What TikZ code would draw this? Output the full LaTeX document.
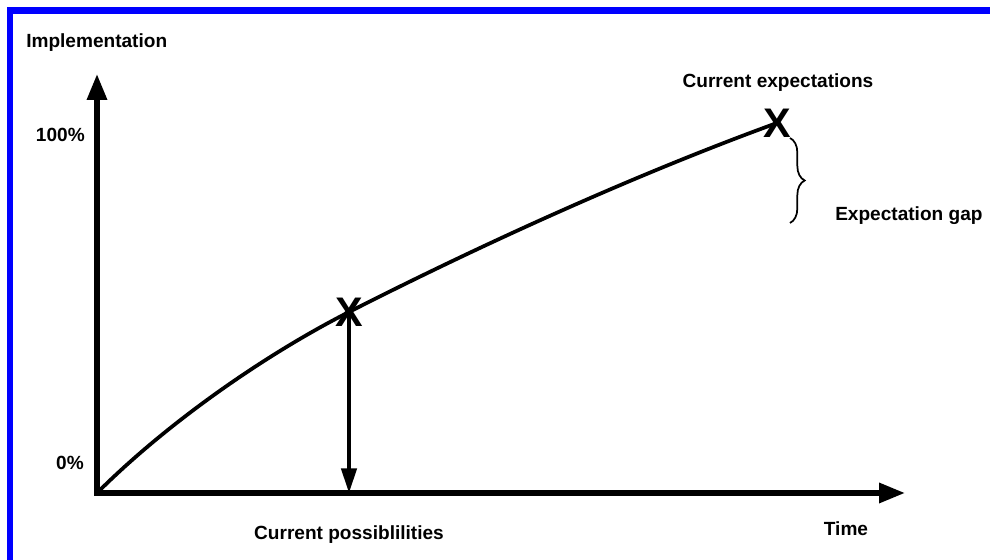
\documentclass[tikz,border=0pt]{standalone}
\usepackage{fontspec}
\setmainfont{Liberation Sans}
\usetikzlibrary{positioning,arrows.meta,decorations.pathreplacing}
\definecolor{frameblue}{RGB}{0,0,255}

\begin{document}
\begin{tikzpicture}[
      x=0.75pt,y=0.75pt,
      axis/.style={line width=4pt,line join=miter,
        {Triangle[length=19.5pt,width=14.5pt]}-{Triangle[length=19.5pt,width=14.5pt]}},
      drop/.style={line width=2.6pt,-{Triangle[length=18.5pt,width=11.5pt]}},
      growth/.style={line width=2.8pt},
      lbl/.style={font=\fontsize{14.3}{17}\selectfont\bfseries,inner sep=0pt},
      crossmark/.style={font=\fontsize{31}{31}\selectfont\bfseries,inner sep=0pt}]

    \useasboundingbox (0,0) rectangle (990,560);
    \draw[frameblue,line width=4.9pt,line join=miter] (10,0) -- (10,549.5) -- (990,549.5);

    \coordinate (origin) at (97,67);
    \coordinate (ytop)   at (97,486);
    \coordinate (xend)   at (905,67);
    \coordinate (now)    at (349,248);
    \coordinate (foot)   at (349,67);
    \coordinate (goal)   at (777,437);
    \coordinate (gaptop) at (790,422);
    \coordinate (gapbot) at (790,337);

    % axes
    \draw[axis] (ytop) -- (origin) -- (xend);

    % expected growth of implementation
    \draw[growth] (origin) .. controls (164,134) and (260,202.6) .. (now)
                           .. controls (482.7,316) and (636,385.7) .. (goal);
    \draw[drop] (now) -- (foot);

    \node[crossmark] (nowX)  at (now)  {X};
    \node[crossmark] (goalX) at (goal) {X};

    \draw[line width=1.3pt,decorate,decoration={brace,amplitude=11pt}] (gaptop) -- (gapbot);

    \node[lbl,anchor=west] (impl)  at (26,517)  {Implementation};
    \node[lbl,anchor=east] (full)  at (85,425)  {100\%};
    \node[lbl,anchor=east] (none)  at (84,97)   {0\%};
    \node[lbl]             (poss)  at (349,25)  {Current possiblilities};
    \node[lbl]             (time)  at (846,31)  {Time};
    \node[lbl]             (expt)  at (778,477) {Current expectations};
    \node[lbl,anchor=west] (gap)   at (835,344) {Expectation gap};
  \end{tikzpicture}
\end{document}
